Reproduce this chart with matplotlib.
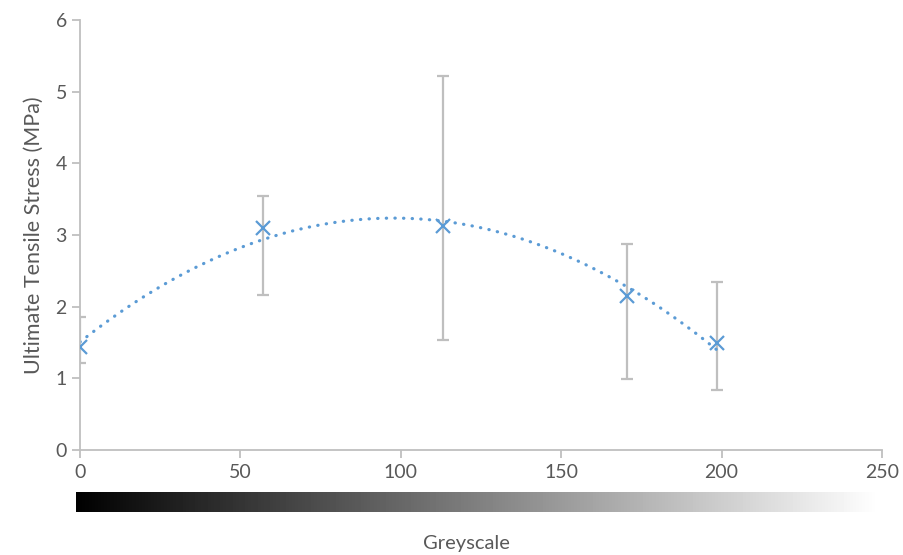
import numpy as np
import matplotlib.pyplot as plt

plt.rcParams['font.family'] = ['Lato', 'DejaVu Sans']

greyscale = [0, 57, 113.2, 170.4, 198.6]
uts = [1.44, 3.10, 3.12, 2.15, 1.50]
err_up = [0.41, 0.44, 2.10, 0.73, 0.84]
err_down = [0.22, 0.94, 1.58, 1.16, 0.66]

blue = '#5b9bd5'
grey = '#bfbfbf'
txt = '#595959'

fig = plt.figure(figsize=(9.04, 5.55), dpi=100)
ax = fig.add_axes([80/904, 1-450/555, 802/904, 430/555])

ax.errorbar(greyscale, uts, yerr=[err_down, err_up], fmt='none',
            ecolor=grey, elinewidth=1.6, capsize=4, capthick=1.6, zorder=1)

# polynomial trendline (order 2)
coef = np.polyfit(greyscale, uts, 2)
xs = np.linspace(greyscale[0], greyscale[-1], 300)
ax.plot(xs, np.polyval(coef, xs), color=blue, lw=2.3,
        linestyle=(0, (0.1, 2.6)), dash_capstyle='round', zorder=2)

ax.plot(greyscale, uts, linestyle='none', marker='x', ms=10, mew=1.6,
        color=blue, zorder=3)

ax.set_xlim(0, 250)
ax.set_ylim(0, 6)
ax.set_xticks([0, 50, 100, 150, 200, 250])
ax.set_yticks(range(7))
for s in ['top', 'right']:
    ax.spines[s].set_visible(False)
for s in ['left', 'bottom']:
    ax.spines[s].set_color(grey)
    ax.spines[s].set_linewidth(1.3)
ax.tick_params(colors=grey, labelcolor=txt, labelsize=14, length=6, width=1.3)
ax.tick_params(axis='x', pad=4)
ax.set_ylabel('Ultimate Tensile Stress (MPa)', color=txt, fontsize=15.5, labelpad=8)

# greyscale gradient bar
gax = fig.add_axes([76/904, 1-512/555, 802/904, 20/555])
gax.imshow(np.linspace(0, 1, 256).reshape(1, -1), cmap='gray', aspect='auto',
           extent=[0, 1, 0, 1])
gax.axis('off')

fig.text(466/904, 1-543/555, 'Greyscale', ha='center', va='center',
         color=txt, fontsize=14.5)

fig.savefig('out.png', dpi=100)
